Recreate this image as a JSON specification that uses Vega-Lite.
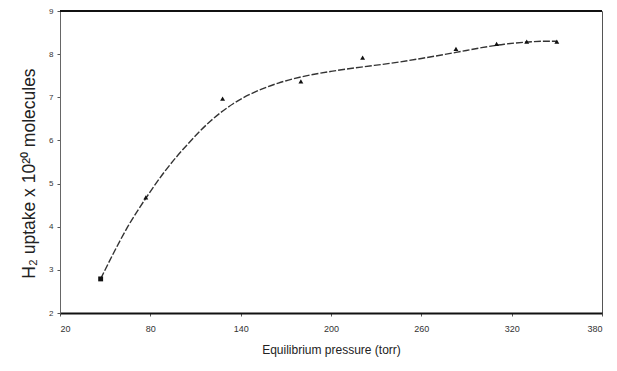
{
  "$schema": "https://vega.github.io/schema/vega-lite/v6.json",
  "width": 542,
  "height": 302,
  "autosize": {"type": "none"},
  "padding": {"left": 60, "top": 11, "right": 15, "bottom": 58},
  "background": "white",
  "config": {
    "view": {"stroke": "#555", "strokeWidth": 1},
    "font": "Liberation Sans"
  },
  "datasets": {
    "points": [
      {"p": 47, "u": 2.79, "s": "square"},
      {"p": 77, "u": 4.68, "s": "triangle-up"},
      {"p": 128, "u": 6.97, "s": "triangle-up"},
      {"p": 180, "u": 7.37, "s": "triangle-up"},
      {"p": 221, "u": 7.92, "s": "triangle-up"},
      {"p": 283, "u": 8.12, "s": "triangle-up"},
      {"p": 310, "u": 8.24, "s": "triangle-up"},
      {"p": 330, "u": 8.29, "s": "triangle-up"},
      {"p": 350, "u": 8.29, "s": "triangle-up"}
    ],
    "curve": [
      {"p": 47, "u": 2.79},
      {"p": 55, "u": 3.35},
      {"p": 65, "u": 4.0},
      {"p": 77, "u": 4.66},
      {"p": 90, "u": 5.3},
      {"p": 105, "u": 5.92},
      {"p": 120, "u": 6.45},
      {"p": 135, "u": 6.85},
      {"p": 150, "u": 7.13},
      {"p": 165, "u": 7.33},
      {"p": 180, "u": 7.47},
      {"p": 200, "u": 7.6},
      {"p": 220, "u": 7.7},
      {"p": 240, "u": 7.79},
      {"p": 260, "u": 7.9},
      {"p": 283, "u": 8.04},
      {"p": 300, "u": 8.15},
      {"p": 315, "u": 8.23},
      {"p": 330, "u": 8.28},
      {"p": 342, "u": 8.3},
      {"p": 350, "u": 8.3}
    ]
  },
  "layer": [
    {
      "data": {"name": "curve"},
      "mark": {"type": "line", "interpolate": "monotone", "color": "#333", "strokeWidth": 1.4, "strokeDash": [7, 2]},
      "encoding": {
        "x": {
          "field": "p", "type": "quantitative",
          "scale": {"domain": [20, 380], "nice": false},
          "axis": {
            "values": [20, 80, 140, 200, 260, 320, 380],
            "title": "Equilibrium pressure (torr)",
            "titleFontSize": 12, "titleFontWeight": "normal", "titleColor": "#222",
            "titlePadding": 11,
            "labelFontSize": 9, "labelColor": "#333", "labelPadding": 8,
            "tickSize": 3, "tickColor": "#555",
            "domainColor": "#111", "domainWidth": 2.2,
            "grid": false
          }
        },
        "y": {
          "field": "u", "type": "quantitative",
          "scale": {"domain": [2, 9], "nice": false},
          "axis": {
            "values": [2, 3, 4, 5, 6, 7, 8, 9],
            "title": "H₂ uptake x 10²⁰ molecules",
            "titleFontSize": 17.5, "titleFontWeight": "normal", "titleColor": "#222",
            "titlePadding": 10,
            "titleY": 162,
            "labelFontSize": 8, "labelColor": "#333", "labelPadding": 4,
            "tickSize": 3, "tickColor": "#555",
            "domainColor": "#666", "domainWidth": 1,
            "grid": false
          }
        }
      }
    },
    {
      "data": {"name": "points"},
      "mark": {"type": "point", "filled": true, "color": "#111", "size": 24, "opacity": 1},
      "encoding": {
        "x": {"field": "p", "type": "quantitative"},
        "y": {"field": "u", "type": "quantitative"},
        "shape": {"field": "s", "type": "nominal", "scale": null}
      }
    },
    {
      "data": {"values": [{"u": 9}]},
      "mark": {"type": "rule", "color": "#111", "strokeWidth": 2.2},
      "encoding": {"y": {"field": "u", "type": "quantitative"}}
    }
  ]
}
